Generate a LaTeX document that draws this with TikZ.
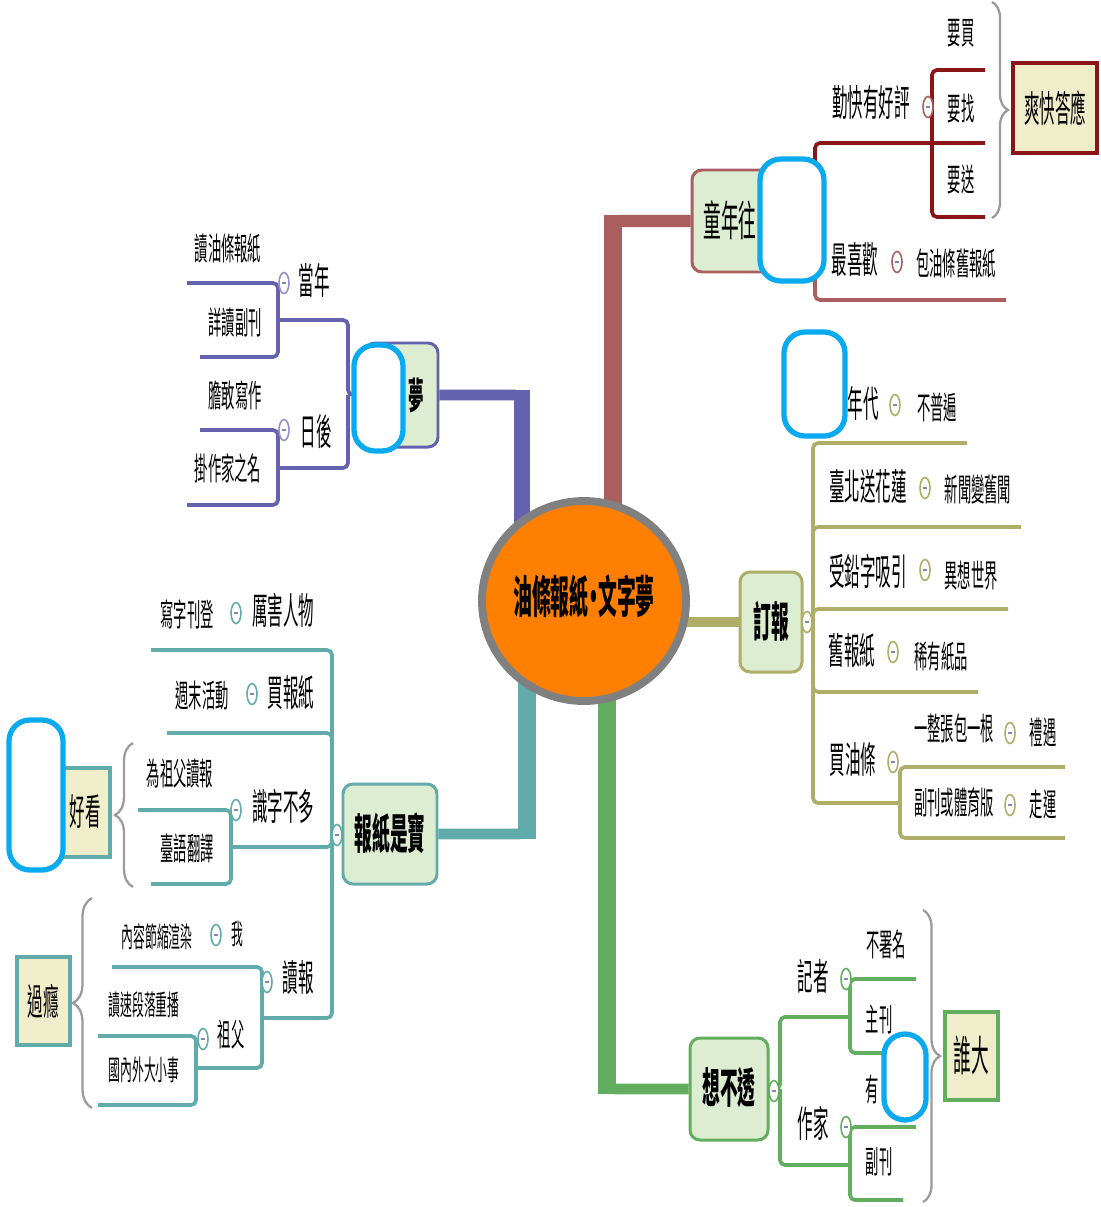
\documentclass[tikz,border=0pt]{standalone}
\usepackage{fontspec}
\setmainfont{Noto Sans CJK TC}[FakeStretch=0.42]
\usetikzlibrary{fit,backgrounds,shapes.geometric,decorations.pathreplacing}

\definecolor{cRoot}{HTML}{FF8000}
\definecolor{cRim}{HTML}{808080}
\definecolor{cRed}{HTML}{AB5E5E}
\definecolor{cRedDark}{HTML}{8B1414}
\definecolor{cPur}{HTML}{6461AE}
\definecolor{cOli}{HTML}{AFAE68}
\definecolor{cTeal}{HTML}{62ABAB}
\definecolor{cGrn}{HTML}{63AD5F}
\definecolor{cTopic}{HTML}{DCEDD1}
\definecolor{cTag}{HTML}{F0EDCA}
\definecolor{cBlob}{HTML}{0AAAF0}
\definecolor{cBrace}{HTML}{9B9B9B}
\definecolor{cDash}{HTML}{7C86B8}

\begin{document}
\begin{tikzpicture}[x=0.02cm, y=-0.02cm,
    tA/.style={inner sep=0pt, font=\fontsize{24}{24}\selectfont\bfseries},
    tAr/.style={inner sep=0pt, font=\fontsize{24}{24}\selectfont},
    tBb/.style={inner sep=0pt, font=\fontsize{21}{21}\selectfont\bfseries},
    tB/.style={inner sep=0pt, font=\fontsize{21}{21}\selectfont},
    tC/.style={inner sep=0pt, font=\fontsize{18}{18}\selectfont},
    tD/.style={inner sep=0pt, font=\fontsize{16}{16}\selectfont},
    topic/.style={draw=#1, fill=cTopic, line width=1.7pt, rounded corners=0.2cm, inner sep=0pt},
    tagbox/.style={draw=#1, fill=cTag, line width=1.8pt, inner sep=0pt},
    blob/.style={draw=cBlob, fill=white, line width=3pt, rounded corners=0.42cm, inner sep=0pt},
    trunk/.style={draw=#1, line width=6pt, rounded corners=0.15cm},
    stem/.style={draw=#1, line width=10.5pt, shorten >=-3pt},
    twig/.style={draw=#1, line width=2.1pt, rounded corners=0.1cm},
    fold/.style={ellipse, draw=#1, fill=white, line width=0.9pt, minimum width=0.2cm,
      minimum height=0.42cm, inner sep=0pt,
      path picture={\draw[cDash, line width=0.6pt]
        ([xshift=-1.2pt]path picture bounding box.center) --
        ([xshift=1.2pt]path picture bounding box.center);}},
    brc/.style={decorate, decoration={brace, amplitude=#1}, draw=cBrace, line width=1.3pt}
]

    \useasboundingbox (0,0) rectangle (1101,1207);

    % Root
    \node[ellipse, draw=cRim, fill=cRoot, line width=4.5pt, minimum width=4.08cm,
      minimum height=4cm, inner sep=0pt] (root) at (584,601) {};
    \node[inner sep=0pt, font=\fontsize{25.5}{25.5}\selectfont\bfseries] (rootT) at (584,596)
      {油條報紙\kern-0.1em·\kern-0.1em文字夢};

    % Main topics
    \node[topic=cRed, fit={(692,170) (800,272)}] (youth) {};
    \node[tAr] (youthT) at (730,220) {童年往};
    \node[topic=cPur, fit={(365,343) (438,447)}] (dream) {};
    \node[tBb] (dreamT) at (416,395) {夢};
    \node[topic=cOli, fit={(740,572) (802,672)}] (order) {};
    \node[tA] (orderT) at (771,621) {訂報};
    \node[topic=cTeal, fit={(343,784) (437,884)}] (treasure) {};
    \node[tA] (treasureT) at (390,833) {報紙是寶};
    \node[topic=cGrn, fit={(690,1038) (768,1140)}] (think) {};
    \node[tA] (thinkT) at (729,1088) {想不透};

    % Trunks
    \begin{scope}[on background layer]
        \fill[white] (0,0) rectangle (1101,1207);
        \coordinate (pcol) at (522,0);
        \coordinate (rcol) at (613,0);
        \coordinate (tcol) at (527,0);
        \coordinate (gcol) at (607,0);
        \draw[trunk=cPur] (root.center -| pcol) |- (dream.east);
        \draw[stem=cPur, line width=9.5pt] (root.center -| pcol) -- (pcol |- dream.east);
        \draw[trunk=cRed, line width=7pt] (root.center -| rcol) |- (youth.west);
        \draw[stem=cRed, shorten >=-3.5pt] (root.center -| rcol) -- (rcol |- youth.west);
        \draw[trunk=cOli] (root.center |- order.west) -- (order.west);
        \draw[trunk=cTeal] (root.center -| tcol) |- (treasure.east);
        \draw[stem=cTeal] (root.center -| tcol) -- (tcol |- treasure.east);
        \draw[trunk=cGrn] (root.center -| gcol) |- (think.west);
        \draw[stem=cGrn] (root.center -| gcol) -- (gcol |- think.west);
    \end{scope}

    % Red branch
    \coordinate (rj) at (815,221);
    \coordinate (pj) at (932,143);
    \coordinate (praiseEnd) at (985,143);
    \coordinate (likeEnd) at (1006,300);
    \coordinate (buyEnd) at (985,70);
    \coordinate (sendEnd) at (985,217);
    \draw[twig=cRedDark] (youth.east) -- (rj) |- (praiseEnd);
    \draw[twig=cRed] (rj) |- (likeEnd);
    \draw[twig=cRedDark] (pj) |- (buyEnd);
    \draw[twig=cRedDark] (pj) |- (sendEnd);
    \node[tB] (praise) at (871,102) {勤快有好評};
    \node[tC] (wantBuy) at (961,33) {要買};
    \node[tC] (wantFind) at (961,108) {要找};
    \node[tC] (wantSend) at (961,179) {要送};
    \node[tB] (fav) at (855,260) {最喜歡};
    \node[tC] (wrap) at (956,263) {包油條舊報紙};
    \node[fold=cRed] (f1) at (928,107) {};
    \node[fold=cRed] (f2) at (897,262) {};
    \draw[brc=0.32cm] (992,2) -- (992,218);
    \node[tagbox=cRedDark, fit={(1013,63) (1097,153)}] (agree) {};
    \node[tB] (agreeT) at (1055,108) {爽快答應};

    % Purple branch
    \coordinate (dj) at (348,395);
    \coordinate (yj) at (278,320);
    \coordinate (lj) at (278,468);
    \coordinate (dyA) at (187,283);
    \coordinate (dyB) at (200,357);
    \coordinate (dlA) at (200,430);
    \coordinate (dlB) at (187,505);
    \draw[twig=cPur] (dream.west) -- (dj) |- (yj);
    \draw[twig=cPur] (dj) |- (lj);
    \draw[twig=cPur] (yj) |- (dyA);
    \draw[twig=cPur] (yj) |- (dyB);
    \draw[twig=cPur] (lj) |- (dlA);
    \draw[twig=cPur] (lj) |- (dlB);
    \node[tB] (then) at (314,280) {當年};
    \node[tB] (later) at (316,432) {日後};
    \node[tC] (readOil) at (228,248) {讀油條報紙};
    \node[tC] (readSup) at (235,322) {詳讀副刊};
    \node[tC] (dare) at (235,395) {膽敢寫作};
    \node[tC] (hang) at (228,468) {掛作家之名};
    \node[fold=cPur!70] (f3) at (284,283) {};
    \node[fold=cPur!70] (f4) at (284,430) {};

    % Olive branch
    \coordinate (oj) at (813,622);
    \coordinate (bj) at (900,803);
    \coordinate (oA) at (967,443);
    \coordinate (oB) at (1021,527);
    \coordinate (oC) at (1008,609);
    \coordinate (oD) at (978,692);
    \coordinate (oE) at (1065,767);
    \coordinate (oF) at (1065,838);
    \draw[twig=cOli] (order.east) -- (oj) |- (oA);
    \draw[twig=cOli] (oj) |- (oB);
    \draw[twig=cOli] (oj) |- (oC);
    \draw[twig=cOli] (oj) |- (oD);
    \draw[twig=cOli] (oj) |- (bj);
    \draw[twig=cOli] (bj) |- (oE);
    \draw[twig=cOli] (bj) |- (oF);
    \node[tB] (era) at (863,403) {年代};
    \node[tC] (rare) at (937,407) {不普遍};
    \node[tB] (taipei) at (868,486) {臺北送花蓮};
    \node[tC] (news) at (978,489) {新聞變舊聞};
    \node[tB] (lead) at (868,571) {受鉛字吸引};
    \node[tC] (fancy) at (971,576) {異想世界};
    \node[tB] (oldPaper) at (852,650) {舊報紙};
    \node[tC] (rareItem) at (941,657) {稀有紙品};
    \node[tB] (buyStick) at (853,760) {買油條};
    \node[tC] (whole) at (954,728) {一整張包一根};
    \node[tC] (honor) at (1043,732) {禮遇};
    \node[tC] (sports) at (954,802) {副刊或體育版};
    \node[tC] (luck) at (1043,805) {走運};
    \node[fold=cOli] (f5) at (807,622) {};
    \node[fold=cOli] (f6) at (895,405) {};
    \node[fold=cOli] (f7) at (925,488) {};
    \node[fold=cOli] (f8) at (925,570) {};
    \node[fold=cOli] (f9) at (893,652) {};
    \node[fold=cOli] (f10) at (893,762) {};
    \node[fold=cOli] (f11) at (1010,733) {};
    \node[fold=cOli] (f12) at (1010,805) {};

    % Teal branch
    \coordinate (tj) at (332,834);
    \coordinate (wj) at (231,847);
    \coordinate (rdj) at (262,1018);
    \coordinate (gfj) at (196,1068);
    \coordinate (tkA) at (151,650);
    \coordinate (tkB) at (167,733);
    \coordinate (tkC) at (138,810);
    \coordinate (tkD) at (151,884);
    \coordinate (tkE) at (112,967);
    \coordinate (tkF) at (98,1036);
    \coordinate (tkG) at (98,1105);
    \draw[twig=cTeal] (treasure.west) -- (tj) |- (tkA);
    \draw[twig=cTeal] (tj) |- (tkB);
    \draw[twig=cTeal] (tj) |- (wj);
    \draw[twig=cTeal] (wj) |- (tkC);
    \draw[twig=cTeal] (wj) |- (tkD);
    \draw[twig=cTeal] (tj) |- (rdj);
    \draw[twig=cTeal] (rdj) |- (tkE);
    \draw[twig=cTeal] (rdj) |- (gfj);
    \draw[twig=cTeal] (gfj) |- (tkF);
    \draw[twig=cTeal] (gfj) |- (tkG);
    \node[tC] (write) at (187,614) {寫字刊登};
    \node[tB] (mighty) at (283,610) {厲害人物};
    \node[tC] (weekend) at (202,696) {週末活動};
    \node[tB] (buyNews) at (291,692) {買報紙};
    \node[tC] (forGrand) at (180,774) {為祖父讀報};
    \node[tB] (fewWords) at (283,806) {識字不多};
    \node[tC] (taiwanese) at (187,848) {臺語翻譯};
    \node[tD] (render) at (157,937) {內容節縮渲染};
    \node[tD] (me) at (237,934) {我};
    \node[tB] (readNews) at (298,978) {讀報};
    \node[tD] (replay) at (144,1005) {讀速段落重播};
    \node[tC] (grandpa) at (231,1035) {祖父};
    \node[tD] (world) at (144,1070) {國內外大小事};
    \node[fold=cTeal] (f13) at (337,835) {};
    \node[fold=cTeal] (f14) at (236,613) {};
    \node[fold=cTeal] (f15) at (252,694) {};
    \node[fold=cTeal] (f16) at (236,810) {};
    \node[fold=cTeal] (f17) at (216,935) {};
    \node[fold=cTeal] (f18) at (267,982) {};
    \node[fold=cTeal] (f19) at (203,1039) {};
    \draw[brc=0.36cm] (133,887) -- (133,743);
    \draw[brc=0.38cm] (92,1108) -- (92,898);
    \node[tagbox=cTeal, fit={(63,768) (110,857)}] (look) {};
    \node[tB] (lookT) at (85,812) {好看};
    \node[tagbox=cTeal, fit={(17,957) (70,1045)}] (hooked) {};
    \node[tB] (hookedT) at (43,1001) {過癮};

    % Green branch
    \coordinate (gj) at (780,1089);
    \coordinate (kj) at (850,1017);
    \coordinate (aj) at (850,1165);
    \coordinate (gkA) at (916,979);
    \coordinate (gkB) at (916,1053);
    \coordinate (gkC) at (916,1127);
    \coordinate (gkD) at (903,1200);
    \draw[twig=cGrn] (think.east) -- (gj) |- (kj);
    \draw[twig=cGrn] (gj) |- (aj);
    \draw[twig=cGrn] (kj) |- (gkA);
    \draw[twig=cGrn] (kj) |- (gkB);
    \draw[twig=cGrn] (aj) |- (gkC);
    \draw[twig=cGrn] (aj) |- (gkD);
    \node[tB] (reporter) at (813,976) {記者};
    \node[tB] (author) at (813,1123) {作家};
    \node[tC] (anon) at (886,944) {不署名};
    \node[tC] (mainPage) at (879,1020) {主刊};
    \node[tC] (have) at (872,1090) {有};
    \node[tC] (supp) at (879,1162) {副刊};
    \node[fold=cGrn] (f20) at (774,1091) {};
    \node[fold=cGrn] (f21) at (846,979) {};
    \node[fold=cGrn] (f22) at (846,1127) {};
    \draw[brc=0.34cm] (923,910) -- (923,1202);
    \node[tagbox=cGrn, fit={(945,1012) (998,1100)}] (who) {};
    \node[tAr] (whoT) at (971,1055) {誰大};

    % Blank shapes on top
    \node[blob, fit={(760,159) (824,281)}] (blankA) {};
    \node[blob, fit={(354,345) (403,451)}] (blankB) {};
    \node[blob, fit={(784,332) (845,436)}] (blankC) {};
    \node[blob, fit={(9,720) (63,870)}] (blankD) {};
    \node[blob, fit={(884,1034) (926,1120)}] (blankE) {};

\end{tikzpicture}
\end{document}
